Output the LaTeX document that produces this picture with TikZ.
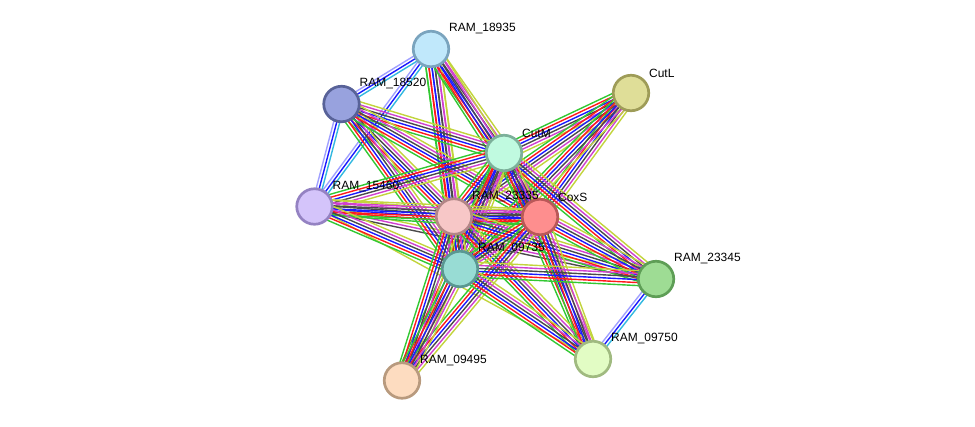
\documentclass[tikz,border=0pt]{standalone}
\usepackage{fontspec}
\setmainfont{Liberation Sans}
\usetikzlibrary{calc,backgrounds}
\definecolor{eg}{HTML}{33C833}
\definecolor{er}{HTML}{FF1A1A}
\definecolor{eb}{HTML}{1A1AFF}
\definecolor{ek}{HTML}{4A4A4A}
\definecolor{em}{HTML}{D040D0}
\definecolor{el}{HTML}{C2D43C}
\definecolor{ec}{HTML}{33B8E0}
\definecolor{ev}{HTML}{A0A0FF}
\tikzset{
  strand/.style={line width=1.4bp},
  prot/.style={circle, minimum size=35.5bp, inner sep=0pt, line width=2.7bp},
  lbl/.style={anchor=west, inner sep=0pt, font=\fontsize{12}{14}\selectfont, text=black}
}
\newcommand\sedge[4]{%
  \foreach \c [count=\i] in {#2}{%
    \pgfmathsetmacro\offs{(\i-(#1+1)/2)*3.0}%
    \draw[strand,draw=\c] ($(#3)!\offs bp!90:(#4)$) -- ($(#4)!\offs bp!-90:(#3)$);%
  }}
\newcommand\fe[2]{\sedge{6}{eg,er,eb,ek,em,el}{#1}{#2}}
\newcommand\he[2]{\sedge{3}{ev,eb,ec}{#1}{#2}}
\begin{document}
\begin{tikzpicture}[x=1bp,y=-1bp]
\useasboundingbox (0,0) rectangle (975,426);
\node[prot, fill={rgb,255:red,192;green,232;blue,251}, draw={rgb,255:red,122;green,164;blue,190}] (n18935) at (431,49) {};
\node[prot, fill={rgb,255:red,152;green,162;blue,222}, draw={rgb,255:red,88;green,98;blue,152}] (n18520) at (341.5,104) {};
\node[prot, fill={rgb,255:red,223;green,222;blue,152}, draw={rgb,255:red,158;green,156;blue,88}] (nCutL) at (631,93) {};
\node[prot, fill={rgb,255:red,192;green,250;blue,224}, draw={rgb,255:red,124;green,176;blue,154}] (nCutM) at (504,153) {};
\node[prot, fill={rgb,255:red,212;green,196;blue,250}, draw={rgb,255:red,148;green,130;blue,194}] (n15460) at (314.5,206.5) {};
\node[prot, fill={rgb,255:red,247;green,199;blue,199}, draw={rgb,255:red,178;green,134;blue,134}] (n23335) at (454,216.5) {};
\node[prot, fill={rgb,255:red,254;green,142;blue,142}, draw={rgb,255:red,186;green,88;blue,88}] (nCoxS) at (540,217) {};
\node[prot, fill={rgb,255:red,152;green,220;blue,212}, draw={rgb,255:red,90;green,152;blue,146}] (n09735) at (460,269) {};
\node[prot, fill={rgb,255:red,158;green,220;blue,148}, draw={rgb,255:red,94;green,158;blue,86}] (n23345) at (656,279) {};
\node[prot, fill={rgb,255:red,226;green,252;blue,196}, draw={rgb,255:red,160;green,186;blue,128}] (n09750) at (593,359) {};
\node[prot, fill={rgb,255:red,253;green,220;blue,192}, draw={rgb,255:red,184;green,154;blue,126}] (n09495) at (402,380.5) {};
\begin{pgfonlayer}{background}
\he{n18935}{n18520}
\he{n18935}{n15460}
\he{n18520}{n15460}
\he{n23345}{n09750}
\sedge{3}{ek,em,el}{n15460}{n23345}
\sedge{1}{el}{n15460}{n09750}
\fe{n18935}{nCutM}
\fe{n18935}{n23335}
\fe{n18935}{n09735}
\fe{n18935}{nCoxS}
\fe{n18520}{nCutM}
\fe{n18520}{n23335}
\fe{n18520}{n09735}
\fe{n18520}{nCoxS}
\fe{nCutL}{nCutM}
\fe{nCutL}{n23335}
\fe{nCutL}{nCoxS}
\fe{nCutL}{n09735}
\fe{nCutM}{n15460}
\fe{nCutM}{n23335}
\fe{nCutM}{nCoxS}
\fe{nCutM}{n09735}
\fe{nCutM}{n23345}
\fe{nCutM}{n09750}
\fe{nCutM}{n09495}
\fe{n15460}{n23335}
\fe{n15460}{nCoxS}
\fe{n15460}{n09735}
\fe{n23335}{nCoxS}
\fe{n23335}{n09735}
\fe{n23335}{n23345}
\fe{n23335}{n09750}
\fe{n23335}{n09495}
\fe{nCoxS}{n09735}
\fe{nCoxS}{n23345}
\fe{nCoxS}{n09750}
\fe{nCoxS}{n09495}
\fe{n09735}{n23345}
\fe{n09735}{n09750}
\fe{n09735}{n09495}
\end{pgfonlayer}
\node[lbl] (t18935) at ($(n18935)+(18,-20)$) {RAM\_18935};
\node[lbl] (t18520) at ($(n18520)+(18,-20)$) {RAM\_18520};
\node[lbl] (tCutL) at ($(nCutL)+(18,-20)$) {CutL};
\node[lbl] (tCutM) at ($(nCutM)+(18,-20)$) {CutM};
\node[lbl] (t15460) at ($(n15460)+(18,-20)$) {RAM\_15460};
\node[lbl] (t23335) at ($(n23335)+(18,-20)$) {RAM\_23335};
\node[lbl] (tCoxS) at ($(nCoxS)+(18,-20)$) {CoxS};
\node[lbl] (t09735) at ($(n09735)+(18,-20)$) {RAM\_09735};
\node[lbl] (t23345) at ($(n23345)+(18,-20)$) {RAM\_23345};
\node[lbl] (t09750) at ($(n09750)+(18,-20)$) {RAM\_09750};
\node[lbl] (t09495) at ($(n09495)+(18,-20)$) {RAM\_09495};
\end{tikzpicture}
\end{document}
